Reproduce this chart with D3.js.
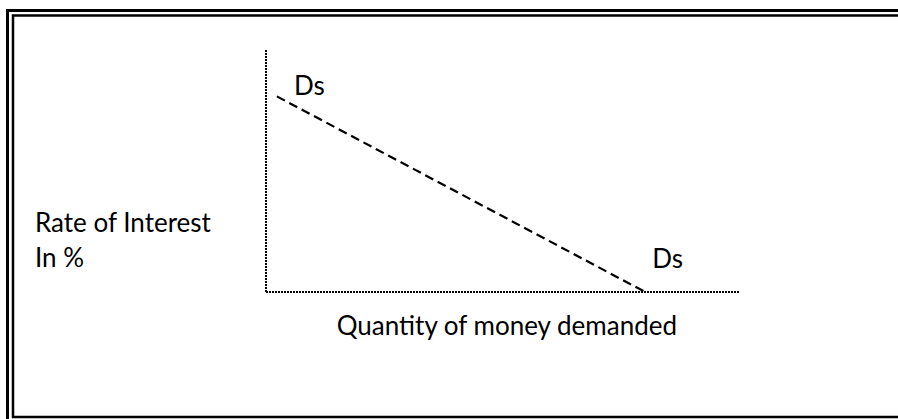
<!DOCTYPE html>
<html>
<head>
<meta charset="utf-8">
<script src="https://cdn.jsdelivr.net/npm/d3@7"></script>
<style>
  body { margin: 0; background: #fff; }
  svg { display: block; }
  .lbl { font-family: Lato, "Open Sans", sans-serif; font-size: 26px; fill: #000; }
</style>
</head>
<body>
<svg class="chart" width="898" height="419"></svg>
<script>
// axis ends in data units (quantity, rate)
var xAxisPts = [[0, 0], [10, 0]]
var yAxisPts = [[0, 0], [0, 10]]
// money demand curve
var demand = [{q: 0.23, r: 8.05}, {q: 8.0, r: 0}]
var curveLabels = ["Ds", "Ds"]
var yTitle = ["Rate of Interest", "In %"]
var xTitle = "Quantity of money demanded"

var svg = d3.select(".chart")

// double frame round the figure
svg.append("rect")
    .attr("x", 7.5).attr("y", 10.5)
    .attr("width", 905).attr("height", 420)
    .attr("fill", "none").attr("stroke", "#000").attr("stroke-width", 3)
svg.append("rect")
    .attr("x", 13).attr("y", 15.5)
    .attr("width", 900).attr("height", 401.5)
    .attr("fill", "none").attr("stroke", "#000").attr("stroke-width", 2.5)

var x = d3.scaleLinear().domain([0, 10]).range([266, 740])
var y = d3.scaleLinear().domain([0, 10]).range([292, 49])

var line = d3.line()
    .x(function(d) { return x(d[0]) })
    .y(function(d) { return y(d[1]) })

svg.selectAll(".axis")
  .data([xAxisPts, yAxisPts])
  .enter()
  .append("path")
    .attr("class", "axis")
    .attr("d", line)
    .attr("fill", "none")
    .attr("stroke", "#000")
    .attr("stroke-width", 2)
    .attr("stroke-dasharray", "2,1")

svg.append("path")
    .attr("d", line(demand.map(function(d) { return [d.q, d.r] })))
    .attr("fill", "none")
    .attr("stroke", "#000")
    .attr("stroke-width", 2.2)
    .attr("stroke-dasharray", "9,5")

// Ds labels beside the two ends of the curve
svg.append("text").attr("class", "lbl")
    .attr("x", x(demand[0].q) + 17).attr("y", y(demand[0].r) - 1)
    .text(curveLabels[0])
svg.append("text").attr("class", "lbl")
    .attr("x", x(demand[1].q) + 7).attr("y", y(demand[1].r) - 24)
    .text(curveLabels[1])

svg.selectAll(".ytitle")
  .data(yTitle)
  .enter()
  .append("text")
    .attr("class", "lbl ytitle")
    .attr("x", 35)
    .attr("y", function(d, i) { return 232 + i * 35 })
    .text(function(d) { return d })

svg.append("text").attr("class", "lbl")
    .attr("x", 677).attr("y", 335)
    .attr("text-anchor", "end")
    .text(xTitle)
</script>
</body>
</html>
